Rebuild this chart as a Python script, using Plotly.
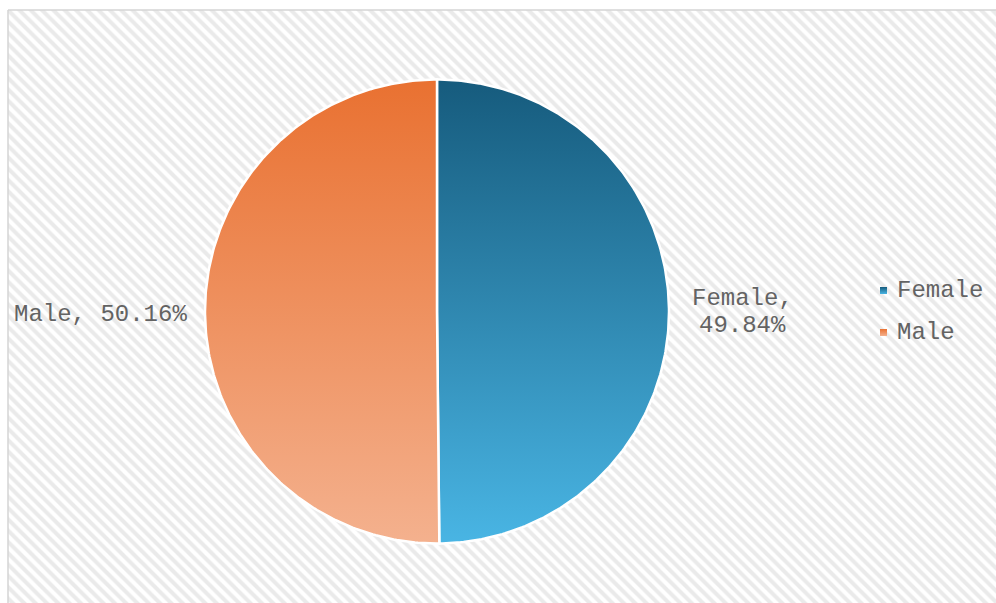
import numpy as np
import plotly.graph_objects as go

# Data
categories = ["Female", "Male"]
shares = [49.84, 50.16]  # percent
top_colors = ["#165B7D", "#E97131"]
bottom_colors = ["#49B5E4", "#F4B18E"]

W, H = 996, 603
CX, CY, R = 437.0, 311.5, 232.0  # pie centre / radius in pixels
TEXT = "#636363"
FONT = "Liberation Mono, Courier New, monospace"


def to_xy(px, py):
    """pixel position -> pie-axis coordinates (1 unit = radius)"""
    return (px - CX) / R, (CY - py) / R


fig = go.Figure()

# hatched chart-area background
fig.add_trace(go.Bar(
    x=[0], y=[1], width=[1], xaxis="x", yaxis="y",
    marker=dict(color="white", line=dict(width=0),
                pattern=dict(shape="\\", fgcolor="#d6d6d6", bgcolor="white",
                             size=8, solidity=0.5)),
    hoverinfo="skip", showlegend=False,
))

# pie wedges, clockwise from 12 o'clock, each with a vertical gradient
total = float(sum(shares))
start = 0.0
annotations = []
for name, v, ctop, cbot in zip(categories, shares, top_colors, bottom_colors):
    a0 = start / total * 2 * np.pi
    a1 = (start + v) / total * 2 * np.pi
    t = np.linspace(a0, a1, 240)
    xs = np.concatenate([[0.0], np.sin(t), [0.0]])
    ys = np.concatenate([[0.0], np.cos(t), [0.0]])
    fig.add_trace(go.Scatter(
        x=xs, y=ys, xaxis="x2", yaxis="y2", mode="lines", fill="toself",
        line=dict(color="white", width=2.5),
        fillgradient=dict(type="vertical", start=-1, stop=1,
                          colorscale=[[0, cbot], [1, ctop]]),
        name=name, hoverinfo="skip", showlegend=False,
    ))

    # outside data label, placed by the wedge's mid-angle
    mid = (a0 + a1) / 2
    right = np.sin(mid) >= 0
    pct = f"{v:.2f}%"
    if right:
        # two-line label
        lx = np.sin(mid) * 1.10
        ly = np.cos(mid) * 1.10
        char_w = 0.6 * 24
        box_w = len(name + ",") * char_w / R
        xc = lx + box_w / 2
        for txt, dy in ((name + ",", 13.5), (pct, -13.5)):
            annotations.append(dict(
                x=xc, y=ly + dy / R - 2 / R, xref="x2", yref="y2", text=txt,
                showarrow=False, xanchor="center", yanchor="middle",
                font=dict(family=FONT, size=24, color=TEXT)))
    else:
        lx = np.sin(mid) * 1.068
        ly = np.cos(mid) * 1.068
        annotations.append(dict(
            x=lx, y=ly - 1.5 / R, xref="x2", yref="y2", text=f"{name}, {pct}",
            showarrow=False, xanchor="right", yanchor="middle",
            font=dict(family=FONT, size=24, color=TEXT)))
    start += v

# legend: gradient swatches + labels
for i, (name, ctop, cbot) in enumerate(zip(categories, top_colors, bottom_colors)):
    sx, sy = to_xy(883.5, 290.5 + 42 * i)
    fig.add_trace(go.Scatter(
        x=[sx], y=[sy], xaxis="x2", yaxis="y2", mode="markers",
        marker=dict(symbol="square", size=7, color=ctop, line=dict(width=0),
                    gradient=dict(type="vertical", color=cbot)),
        hoverinfo="skip", showlegend=False,
    ))
    tx, ty = to_xy(895, 290 + 42 * i)
    annotations.append(dict(
        x=tx, y=ty, xref="x2", yref="y2", text=name, showarrow=False,
        xanchor="left", yanchor="middle",
        font=dict(family=FONT, size=24, color=TEXT)))

x0, y0 = 8 / W, 1 - 10 / H
fig.update_layout(
    width=W, height=H,
    margin=dict(l=0, r=0, t=0, b=0),
    paper_bgcolor="white",
    plot_bgcolor="rgba(0,0,0,0)",
    showlegend=False,
    bargap=0,
    xaxis=dict(domain=[x0, 1], range=[-0.5, 0.5], visible=False, fixedrange=True),
    yaxis=dict(domain=[0, y0], range=[0, 1], visible=False, fixedrange=True),
    xaxis2=dict(domain=[0, 1], range=[-CX / R, (W - CX) / R], visible=False,
                fixedrange=True, anchor="y2"),
    yaxis2=dict(domain=[0, 1], range=[-(H - CY) / R, CY / R], visible=False,
                fixedrange=True, anchor="x2"),
    annotations=annotations,
    shapes=[
        dict(type="line", xref="paper", yref="paper", x0=x0, x1=1, y0=y0, y1=y0,
             line=dict(color="#d4d4d4", width=1.5), layer="above"),
        dict(type="line", xref="paper", yref="paper", x0=x0, x1=x0, y0=0, y1=y0,
             line=dict(color="#d4d4d4", width=1.5), layer="above"),
    ],
)

fig.write_html("out.html")
